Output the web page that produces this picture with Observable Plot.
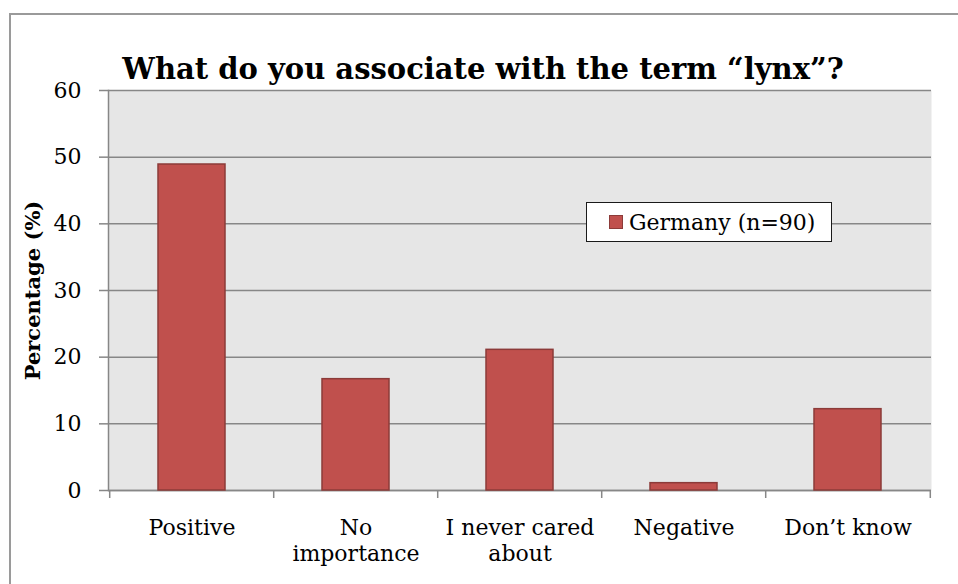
<!DOCTYPE html>
<html>
<head>
<meta charset="utf-8">
<script src="https://cdn.jsdelivr.net/npm/d3@7"></script>
<script src="https://cdn.jsdelivr.net/npm/@observablehq/plot@0.6"></script>
<style>
  html, body { margin: 0; padding: 0; background: #fff; overflow: hidden; width: 958px; height: 584px; }
  #wrap { position: relative; width: 958px; height: 584px; overflow: hidden; background: #fff; }
  .bline { position: absolute; background: #9a9a9a; }
  #btop { left: 9px; top: 13px; width: 949px; height: 2px; }
  #bleft { left: 9px; top: 13px; width: 2px; height: 571px; }
  #legend { position: absolute; left: 586px; top: 202px; width: 246px; height: 40px; box-sizing: border-box;
            border: 1.5px solid #1a1a1a; background: #fff; font-family: "DejaVu Serif", serif; font-size: 22px;
            display: flex; align-items: center; }
  #legend .sw { width: 14px; height: 14px; margin-left: 22px; margin-right: 6px; box-sizing: border-box; }
  #chart { position: absolute; left: 0; top: 0; }
</style>
</head>
<body>
<div id="wrap">
  <div class="bline" id="btop"></div>
  <div class="bline" id="bleft"></div>
  <div id="chart"></div>
  <div id="legend"><div class="sw"></div><span id="legtext"></span></div>
</div>
<script>
const categories = ["Positive", "No importance", "I never cared about", "Negative", "Don’t know"];
const tickLabels = ["Positive", "No\nimportance", "I never cared\nabout", "Negative", "Don’t know"];
const values = [48.9, 16.7, 21.1, 1.1, 12.2];
const seriesName = "Germany (n=90)";
const yTicks = [0, 10, 20, 30, 40, 50, 60];
const titleText = "What do you associate with the term “lynx”?";
const yLabel = "Percentage (%)";

const barFill = "#c0504d";
const barStroke = "#8c3b39";
const gridColor = "#878787";

const data = categories.map((c, i) => ({category: c, value: values[i]}));

const W = 958, H = 584, mL = 108, mR = 27, mT = 90, mB = 94;
const step = (W - mL - mR) / categories.length;

const chart = Plot.plot({
  width: W, height: H,
  marginLeft: mL, marginRight: mR, marginTop: mT, marginBottom: mB,
  style: {fontFamily: "DejaVu Serif", fontSize: "22px", color: "#000", background: "transparent", overflow: "visible"},
  x: {domain: categories, paddingInner: 0.59, paddingOuter: 0.295, label: null},
  y: {domain: [0, 60], ticks: yTicks, label: null},
  marks: [
    Plot.frame({fill: "#e6e6e6"}),
    Plot.gridY(yTicks, {stroke: gridColor, strokeOpacity: 1, strokeWidth: 1.5}),
    Plot.frame({anchor: "left", stroke: gridColor, strokeWidth: 1.5}),
    Plot.ruleY([0], {stroke: gridColor, strokeWidth: 1.5}),
    Plot.axisY(yTicks, {tickSize: 9, tickPadding: 18, stroke: gridColor, strokeWidth: 1.5, fontSize: 22, label: null}),
    Plot.axisX({tickSize: 0, tickPadding: 27, fontSize: 22, lineHeight: 1.15,
      tickFormat: d => tickLabels[categories.indexOf(d)], label: null}),
    Plot.ruleX(categories, {x: d => d, dx: -step / 2, y1: 0, y2: 0, insetBottom: -8, stroke: gridColor, strokeWidth: 1.5}),
    Plot.ruleX(categories.slice(-1), {x: d => d, dx: step / 2, y1: 0, y2: 0, insetBottom: -8, stroke: gridColor, strokeWidth: 1.5}),
    Plot.barY(data, {x: "category", y: "value", fill: barFill, stroke: barStroke, strokeWidth: 1.5}),
    Plot.text([titleText], {frameAnchor: "top", dx: -37, dy: -12, lineAnchor: "bottom", fontWeight: "bold", fontSize: 29}),
    Plot.text([yLabel], {frameAnchor: "left", dx: -75, rotate: -90, textAnchor: "middle", fontWeight: "bold", fontSize: 21})
  ]
});
document.getElementById("chart").appendChild(chart);
document.querySelector("#legend .sw").style.background = barFill;
document.querySelector("#legend .sw").style.border = "1.5px solid " + barStroke;
document.getElementById("legtext").textContent = seriesName;
</script>
</body>
</html>
